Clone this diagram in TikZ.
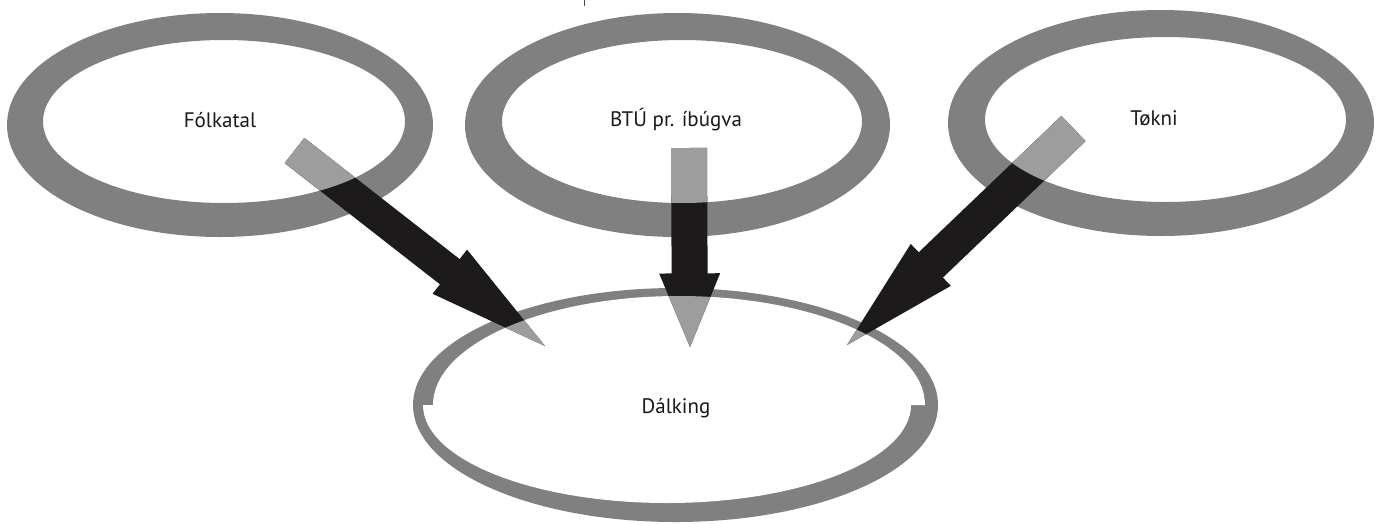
\documentclass[tikz,border=0pt]{standalone}
\usepackage{fontspec}
\setmainfont{PT Sans}
\usetikzlibrary{calc}
\definecolor{ring}{HTML}{808080}
\definecolor{arrdark}{HTML}{1C1A1B}
\definecolor{arrlight}{HTML}{9D9D9D}
% #1 style, #2 tail, #3 tip, #4 shaft width, #5 head width, #6 head start fraction
\newcommand\fatarrow[6]{%
  \coordinate (hb) at ($(#2)!#6!(#3)$);
  \fill[#1] ($(#2)!#4pt/2!90:(#3)$) -- ($(hb)!#4pt/2!90:(#3)$) -- ($(hb)!#5pt/2!90:(#3)$)
    -- (#3) -- ($(hb)!#5pt/2!-90:(#3)$) -- ($(hb)!#4pt/2!-90:(#3)$) -- ($(#2)!#4pt/2!-90:(#3)$) -- cycle;}
\newcommand\innerA{(224,121.5) ellipse [x radius=181pt, y radius=81.5pt]}
\newcommand\innerB{(682,121.5) ellipse [x radius=180pt, y radius=81.5pt]}
\newcommand\innerC{(1165.5,119.5) ellipse [x radius=180.5pt, y radius=82.5pt]}
\newcommand\innerD{(925,405) arc[start angle=0,end angle=180,x radius=246pt,y radius=109pt] -- (423,405) arc[start angle=180,end angle=360,x radius=244pt,y radius=98pt] -- cycle}
\tikzset{
  label/.style={font=\fontsize{21}{24}\selectfont, text=black!90, inner sep=0pt},
  dark/.style={fill=arrdark},
  light/.style={fill=arrlight},
}
\begin{document}
\begin{tikzpicture}[x=1pt,y=-1pt]
\useasboundingbox (0,0) rectangle (1376,523);
\fill[white] (0,0) rectangle (1376,523);
% small tick at top
\draw[line width=1pt, black!70] (584,0) -- (584,6);
% top rings
\fill[ring, even odd rule] (220,125) ellipse [x radius=213pt, y radius=112pt] \innerA;
\fill[ring, even odd rule] (677.5,125) ellipse [x radius=212.5pt, y radius=112pt] \innerB;
\fill[ring, even odd rule] (1161,123) ellipse [x radius=213pt, y radius=113pt] \innerC;
% bottom ring
\fill[ring] (675.5,405) ellipse [x radius=262.5pt, y radius=117pt];
\fill[white] \innerD;
% labels
\node[label] (fk) at (220,120) {Fólkatal};
\node[label] (btu) at (676,120) {BTÚ pr. íbúgva};
\node[label] (tk) at (1154,118) {Tøkni};
\node[label] (dk) at (676,408) {Dálking};
% arrow anchor coordinates
\coordinate (t1) at (294.5,150.5); \coordinate (p1) at (545,346);
\coordinate (t2) at (689,148);     \coordinate (p2) at (690,347);
\coordinate (t3) at (1073.5,128.5);\coordinate (p3) at (847,345);
% dark arrows
\fatarrow{dark}{t1}{p1}{32}{56}{0.62}
\fatarrow{dark}{t2}{p2}{36}{61}{0.63}
\fatarrow{dark}{t3}{p3}{35}{58}{0.63}
% light parts inside the ellipses
\begin{scope}\clip \innerA; \fatarrow{light}{t1}{p1}{32}{56}{0.62}\end{scope}
\begin{scope}\clip \innerB; \fatarrow{light}{t2}{p2}{36}{61}{0.63}\end{scope}
\begin{scope}\clip \innerC; \fatarrow{light}{t3}{p3}{35}{58}{0.63}\end{scope}
\begin{scope}\clip \innerD;
  \fatarrow{light}{t1}{p1}{32}{56}{0.62}
  \fatarrow{light}{t2}{p2}{36}{61}{0.63}
  \fatarrow{light}{t3}{p3}{35}{58}{0.63}
\end{scope}
\end{tikzpicture}
\end{document}
